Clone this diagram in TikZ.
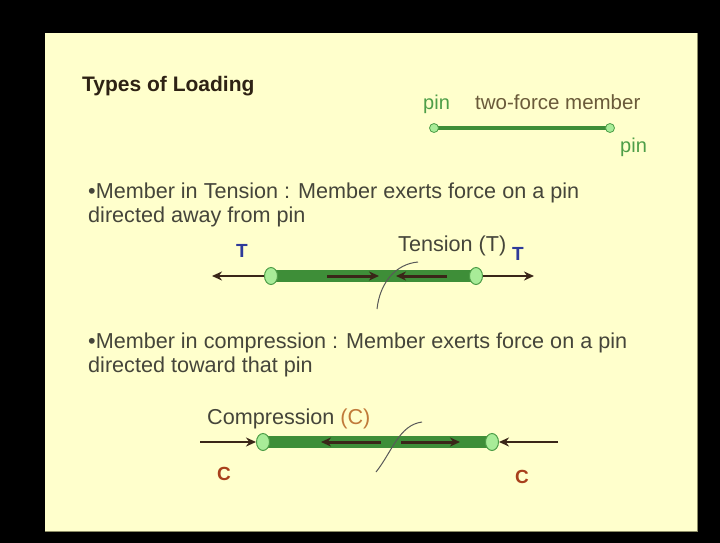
\documentclass[tikz,border=0pt]{standalone}
\usepackage{fontspec}
\setmainfont{Liberation Sans}
\usetikzlibrary{arrows.meta,shapes.geometric}
\definecolor{slide}{HTML}{FFFFCC}
\definecolor{slideedge}{HTML}{8C8C66}
\definecolor{bodytext}{HTML}{45453A}
\definecolor{titletext}{HTML}{2E2214}
\definecolor{membertext}{HTML}{6A5A3A}
\definecolor{pingreen}{HTML}{4E9E48}
\definecolor{barfill}{HTML}{3E8E38}
\definecolor{pinfill}{HTML}{A8EC98}
\definecolor{forcecol}{HTML}{3A2618}
\definecolor{tblue}{HTML}{2E3A9A}
\definecolor{cred}{HTML}{A8401C}
\definecolor{corange}{HTML}{C07A3A}
\begin{document}
\begin{tikzpicture}[x=1pt,y=-1pt,
  txt/.style={anchor=base west, text=bodytext, inner sep=0pt, font=\fontsize{21.6}{24}\selectfont},
  pinc/.style={ellipse, draw=pingreen, fill=pinfill, line width=1pt, minimum width=13pt, minimum height=17pt, inner sep=0pt},
  smallpin/.style={circle, draw=pingreen, fill=pinfill, line width=0.8pt, minimum size=9pt, inner sep=0pt},
  bar/.style={draw=barfill, line width=12pt},
  force/.style={draw=forcecol, line width=2.2pt, -{Stealth[length=10pt,width=9pt]}},
  inner/.style={draw=forcecol, line width=3pt, -{Stealth[length=10pt,width=9pt]}},
  cut/.style={draw=gray!70!black, line width=1pt},
  tlab/.style={font=\bfseries\fontsize{19}{22}\selectfont, text=tblue, inner sep=0pt},
  clab/.style={font=\bfseries\fontsize{19}{22}\selectfont, text=cred, inner sep=0pt}]
\useasboundingbox (0,0) rectangle (720,543);
% frame and slide
\fill[black] (0,0) rectangle (720,543);
\fill[slide] (45,33) rectangle (697,531);
\draw[slideedge, line width=1pt] (45,531) -- (697,531) -- (697,33);

% title
\node[txt, text=titletext, font=\bfseries\fontsize{21}{24}\selectfont] (title) at (82,92) {Types of Loading};

% two-force member sketch
\coordinate (m1) at (434,128);
\coordinate (m2) at (610,128);
\draw[draw=barfill, line width=4pt] (m1) -- (m2);
\node[smallpin] (mp1) at (m1) {};
\node[smallpin] (mp2) at (m2) {};
\node[txt, text=pingreen, font=\fontsize{20}{24}\selectfont] (pinA) at (423,109) {pin};
\node[txt, text=membertext, font=\fontsize{20.5}{24}\selectfont] (tfm) at (475,109) {two-force member};
\node[txt, text=pingreen, font=\fontsize{20}{24}\selectfont] (pinB) at (620,152) {pin};

% tension
\node[txt] (b1a) at (88,198) {\textbullet Member in Tension : Member exerts force on a pin};
\node[txt] (b1b) at (88,222) {directed away from pin};

\coordinate (t1) at (271,276);
\coordinate (t2) at (476,276);
\draw[bar] (t1) -- (t2);
\node[pinc] (tp1) at (t1) {};
\node[pinc] (tp2) at (t2) {};
\coordinate (tl) at (212,276);
\coordinate (tr) at (534,276);
\draw[force] (tp1) -- (tl);
\draw[force] (tp2) -- (tr);
\coordinate (ti1) at (327,276);
\coordinate (ti2) at (379,276);
\coordinate (ti3) at (447,276);
\coordinate (ti4) at (396,276);
\draw[inner] (ti1) -- (ti2);
\draw[inner] (ti3) -- (ti4);
\coordinate (tc1) at (418,262);
\coordinate (tc2) at (377,309);
\draw[cut] (tc1) .. controls (396,264) and (380,282) .. (tc2);
\node[tlab] (tL) at (242,251) {T};
\node[tlab] (tR) at (518,254) {T};
\node[txt] (tens) at (398,251) {Tension (T)};

% compression
\node[txt] (b2a) at (88,348) {\textbullet Member in compression : Member exerts force on a pin};
\node[txt] (b2b) at (88,372) {directed toward that pin};

\coordinate (c1) at (263,442);
\coordinate (c2) at (492,442);
\draw[bar] (c1) -- (c2);
\node[pinc] (cp1) at (c1) {};
\node[pinc] (cp2) at (c2) {};
\coordinate (cl) at (200,442);
\coordinate (cr) at (558,442);
\draw[force] (cl) -- (cp1);
\draw[force] (cr) -- (cp2);
\coordinate (ci1) at (381,442);
\coordinate (ci2) at (321,442);
\coordinate (ci3) at (401,442);
\coordinate (ci4) at (460,442);
\draw[inner] (ci1) -- (ci2);
\draw[inner] (ci3) -- (ci4);
\coordinate (cc1) at (422,422);
\coordinate (cc2) at (376,472);
\draw[cut] (cc1) .. controls (399,425) and (392,452) .. (cc2);
\node[txt] (comp) at (207,424) {Compression \textcolor{corange}{(C)}};
\node[clab] (cL) at (224,474) {C};
\node[clab] (cR) at (522,477) {C};
\end{tikzpicture}
\end{document}
